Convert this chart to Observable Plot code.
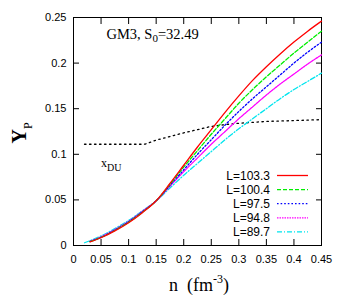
<!DOCTYPE html>
<html>
<head>
<meta charset="utf-8">
<script src="https://cdn.jsdelivr.net/npm/d3@7"></script>
<script src="https://cdn.jsdelivr.net/npm/@observablehq/plot@0.6"></script>
<style>
  html, body { margin: 0; padding: 0; background: #fff; }
  #chart { width: 338px; height: 305px; }
</style>
</head>
<body>
<div id="chart"></div>
<script>
// ---- data ----
const nGrid = [0.03, 0.05, 0.075, 0.1, 0.125, 0.15, 0.175, 0.2, 0.225, 0.25, 0.275, 0.3, 0.325, 0.35, 0.375, 0.4, 0.425, 0.45];
const nGridCyan = [0.02, 0.05, 0.075, 0.1, 0.125, 0.15, 0.175, 0.2, 0.225, 0.25, 0.275, 0.3, 0.325, 0.35, 0.375, 0.4, 0.425, 0.45];
const yL1033 = [0.004, 0.0085, 0.016, 0.025, 0.036, 0.049, 0.068, 0.088, 0.108, 0.127, 0.146, 0.164, 0.181, 0.196, 0.210, 0.223, 0.235, 0.246];
const yL1004 = [0.0042, 0.0088, 0.0165, 0.0255, 0.0365, 0.049, 0.067, 0.086, 0.104, 0.122, 0.139, 0.156, 0.171, 0.185, 0.198, 0.211, 0.223, 0.235];
const yL975 = [0.0044, 0.009, 0.017, 0.026, 0.037, 0.049, 0.066, 0.083, 0.100, 0.116, 0.132, 0.147, 0.161, 0.174, 0.187, 0.200, 0.212, 0.223];
const yL948 = [0.0046, 0.0095, 0.0175, 0.0265, 0.0375, 0.049, 0.065, 0.081, 0.096, 0.111, 0.125, 0.139, 0.152, 0.165, 0.177, 0.188, 0.199, 0.209];
const yL897 = [0.003, 0.0105, 0.0185, 0.0275, 0.038, 0.049, 0.063, 0.077, 0.090, 0.103, 0.116, 0.128, 0.139, 0.150, 0.161, 0.171, 0.180, 0.189];
const nDU = [0.02, 0.05, 0.075, 0.1, 0.125, 0.15, 0.175, 0.2, 0.225, 0.25, 0.275, 0.3, 0.325, 0.35, 0.375, 0.4, 0.425, 0.45];
const xDU = [0.111, 0.111, 0.111, 0.111, 0.111, 0.1155, 0.1195, 0.1235, 0.127, 0.1305, 0.1325, 0.134, 0.135, 0.136, 0.1365, 0.137, 0.1375, 0.138];
const seriesLabels = ["L=103.3", "L=100.4", "L=97.5", "L=94.8", "L=89.7"];
const seriesColors = ["#ff0000", "#00ee00", "#0000ff", "#ff00ff", "#00e5ee"];
const seriesDash = [null, "4,2", "1.6,2", "1.5,1", "5,2,1,2"];
const xTicks = [0, 0.05, 0.1, 0.15, 0.2, 0.25, 0.3, 0.35, 0.4, 0.45];
const yTicks = [0, 0.05, 0.1, 0.15, 0.2, 0.25];

const seriesY = [yL1033, yL1004, yL975, yL948, yL897];
const seriesN = [nGrid, nGrid, nGrid, nGrid, nGridCyan];
const series = seriesLabels.map((label, k) => ({
  label, color: seriesColors[k], dash: seriesDash[k],
  data: seriesN[k].map((n, i) => ({n, y: seriesY[k][i]}))
}));
const duData = nDU.map((n, i) => ({n, y: xDU[i]}));

const fmt = d => String(+d.toFixed(2));
const blank = () => "";
const W = 338, H = 305, mL = 73, mR = 17, mT = 17, mB = 60;

const chart = Plot.plot({
  width: W, height: H,
  marginLeft: mL, marginRight: mR, marginTop: mT, marginBottom: mB,
  style: {fontFamily: "'Liberation Sans', Arial, sans-serif", fontSize: "11px", background: "#fff", color: "#000"},
  x: {domain: [0, 0.45]},
  y: {domain: [0, 0.25]},
  marks: [
    Plot.frame({stroke: "#000", strokeWidth: 1}),
    Plot.axisX(xTicks, {anchor: "bottom", tickSize: -6, tickFormat: blank, label: null}),
    Plot.axisX(xTicks, {anchor: "top", tickSize: -6, tickFormat: blank, label: null}),
    Plot.axisY(yTicks, {anchor: "left", tickSize: -6, tickFormat: blank, label: null}),
    Plot.axisY(yTicks, {anchor: "right", tickSize: -6, tickFormat: blank, label: null}),
    Plot.axisX(xTicks, {anchor: "bottom", tickSize: 0, tickPadding: 10, tickFormat: fmt, label: null}),
    Plot.axisY(yTicks, {anchor: "left", tickSize: 0, tickPadding: 7, tickFormat: fmt, label: null}),
    Plot.line(duData, {x: "n", y: "y", stroke: "#000", strokeWidth: 1.3, strokeDasharray: "1.5,3.5", curve: "monotone-x"}),
    ...series.slice().reverse().map(s =>
      Plot.line(s.data, {x: "n", y: "y", stroke: s.color, strokeWidth: 1.3, strokeDasharray: s.dash, curve: "monotone-x"}))
  ]
});

document.getElementById("chart").appendChild(chart);

// ---- annotations, legend and axis titles ----
const svg = d3.select(chart);
const serif = "'Liberation Serif', 'Times New Roman', serif";

const t1 = svg.append("text").attr("x", 106.5).attr("y", 38.5).attr("text-anchor", "start")
  .attr("font-family", serif).attr("font-size", 14.5).attr("fill", "#000");
t1.append("tspan").text("GM3, S");
t1.append("tspan").attr("dy", 3.5).attr("font-size", 11).text("0");
t1.append("tspan").attr("dy", -3.5).text("=32.49");

const t2 = svg.append("text").attr("x", 101).attr("y", 166.5).attr("text-anchor", "start")
  .attr("font-family", serif).attr("font-size", 12).attr("fill", "#000");
t2.append("tspan").text("x");
t2.append("tspan").attr("dy", 4.5).attr("font-size", 10).text("DU");

// y title
const ty = svg.append("text").attr("text-anchor", "start")
  .attr("transform", "translate(25.5,143.5) rotate(-90)")
  .attr("font-family", serif).attr("font-size", 20).attr("font-weight", "bold").attr("fill", "#000");
ty.append("tspan").text("Y");
ty.append("tspan").attr("dy", 6).attr("font-size", 12).attr("font-weight", "normal").text("P");

// x title
const tx = svg.append("text").attr("x", 169).attr("y", 290.5).attr("text-anchor", "start")
  .attr("font-family", serif).attr("font-size", 18).attr("fill", "#000")
  .attr("xml:space", "preserve");
tx.append("tspan").text("n  (fm");
tx.append("tspan").attr("dy", -8).attr("font-size", 12).text("-3");
tx.append("tspan").attr("dy", 8).text(")");

// legend
const lg = svg.append("g");
series.forEach((s, i) => {
  const cy = 175.5 + i * 14.1;
  lg.append("text").attr("x", 270).attr("y", cy + 4.2).attr("text-anchor", "end")
    .attr("font-family", "'Liberation Sans', Arial, sans-serif").attr("font-size", 12).attr("fill", "#000").text(s.label);
  lg.append("line").attr("x1", 277).attr("x2", 308).attr("y1", cy).attr("y2", cy)
    .attr("stroke", s.color).attr("stroke-width", 1.3).attr("stroke-dasharray", s.dash);
});
</script>
</body>
</html>
